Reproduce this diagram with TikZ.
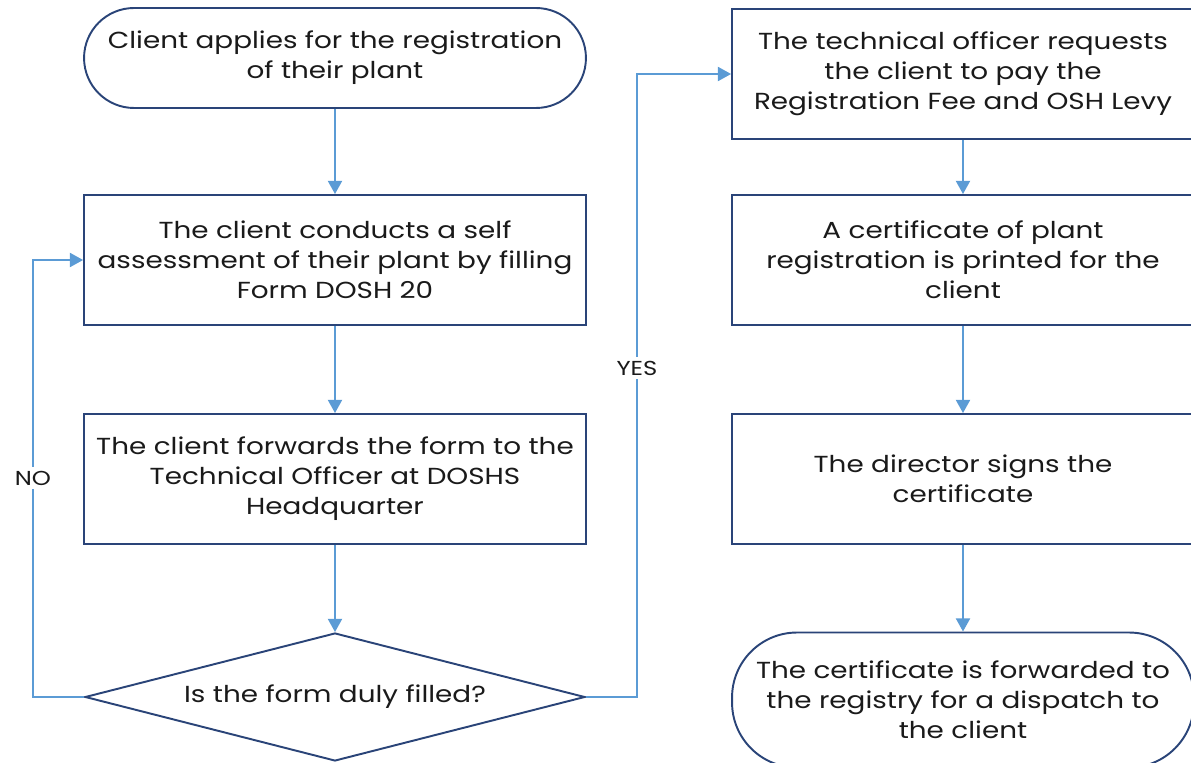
\documentclass[tikz,border=0pt]{standalone}
\usepackage{fontspec}
\setmainfont{Poppins}[FakeStretch=1.2]
\usetikzlibrary{arrows.meta,shapes.geometric}
\definecolor{boxline}{HTML}{2A4478}
\definecolor{linkline}{HTML}{5B9BD5}
\definecolor{txt}{HTML}{1A1A1A}
\tikzset{
  every node/.style={font=\fontsize{13.2}{17}\selectfont, text=txt, align=center},
  stepbox/.style={draw=boxline, line width=1.1pt, minimum width=10.04cm, minimum height=2.6cm, fill=white},
  sidebox/.style={stepbox, minimum width=9.24cm},
  terminal/.style={draw=boxline, line width=1.1pt, rounded corners=1cm, minimum width=10.04cm, minimum height=2cm},
  decision/.style={draw=boxline, line width=1.1pt, diamond, aspect=3.9, inner sep=0pt, minimum width=10cm, minimum height=2.56cm},
  link/.style={draw=linkline, line width=1.1pt, -{Triangle[width=8pt,length=7.5pt]}},
  tag/.style={fill=white, inner sep=2pt, font=\fontsize{11.5}{13}\selectfont}
}
\begin{document}
\begin{tikzpicture}[x=0.02cm, y=-0.02cm]
			%%%%% START %%%%%
			\useasboundingbox (0, 0) rectangle (1191, 763);
			
			% left column
			\node[terminal] (apply) at (335, 58) {Client applies for the registration\\of their plant};
			\node[stepbox] (assess) at (335, 260) {The client conducts a self\\assessment of their plant by filling\\Form DOSH 20};
			\node[stepbox] (forward) at (335, 479) {The client forwards the form to the\\Technical Officer at DOSHS\\Headquarter};
			\node[decision] (check) at (335, 697) {Is the form duly filled?};
			
			% right column
			\node[sidebox] (pay) at (963, 74) {The technical officer requests\\the client to pay the\\Registration Fee and OSH Levy};
			\node[sidebox] (print) at (963, 260) {A certificate of plant\\registration is printed for the\\client};
			\node[sidebox] (sign) at (963, 479) {The director signs the\\certificate};
			\node[terminal, minimum width=9.24cm, minimum height=2.7cm, rounded corners=1.3cm] (dispatch) at (963, 700) {The certificate is forwarded to\\the registry for a dispatch to\\the client};
			
			\draw[link] (apply) -- (assess);
			\draw[link] (assess) -- (forward);
			\draw[link] (forward) -- (check);
			
			\draw[link] (pay) -- (print);
			\draw[link] (print) -- (sign);
			\draw[link] (sign) -- (dispatch);
			
			% loops
			\coordinate (noturn) at (33, 697);
			\coordinate (yesturn) at (637, 697);
			\draw[link] (check.west) -- (noturn) |- (assess.west);
			\draw[link] (check.east) -- (yesturn) |- (pay.west);
			\node[tag] (nolabel) at (33, 478) {NO};
			\node[tag] (yeslabel) at (637, 368) {YES};
			%%%%% END %%%%%
		\end{tikzpicture}
\end{document}
